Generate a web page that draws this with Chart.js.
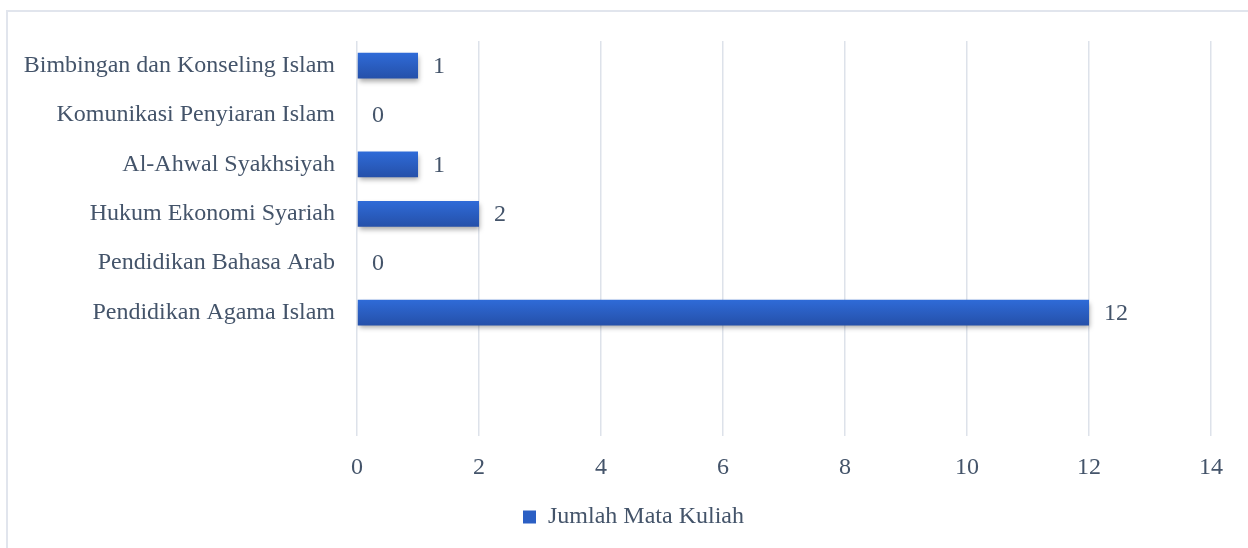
<!DOCTYPE html>
<html>
<head>
<meta charset="utf-8">
<script src="https://cdn.jsdelivr.net/npm/chart.js@4.4.1/dist/chart.umd.min.js"></script>
<style>
  html, body { margin: 0; padding: 0; background: #fff; overflow: hidden; }
  #wrap { position: relative; width: 1248px; height: 548px; }
  #frame { position: absolute; left: 6px; top: 10px; width: 1260px; height: 560px;
           border: 2px solid #e1e5ed; box-sizing: border-box; }
  canvas { position: absolute; left: 0; top: 0; }
</style>
</head>
<body>
<div id="wrap">
  <div id="frame"></div>
  <canvas id="prodi-chart" width="1248" height="548"></canvas>
</div>
<script>
// data
const prodi = ['Bimbingan dan Konseling Islam', 'Komunikasi Penyiaran Islam', 'Al-Ahwal Syakhsiyah',
  'Hukum Ekonomi Syariah', 'Pendidikan Bahasa Arab', 'Pendidikan Agama Islam', '', ''];
const jumlahMK = [1, 0, 1, 2, 0, 12, null, null];
const seriesName = 'Jumlah Mata Kuliah';
const xTicks = [0, 2, 4, 6, 8, 10, 12, 14];

const textColor = '#44546A';
const serif = "'Liberation Serif', 'Times New Roman', serif";

// gradient per bar, built from the y scale position
function barFill(c) {
  const chart = c.chart;
  const y = chart.scales && chart.scales.y;
  if (!y || c.dataIndex === undefined) return '#2B5FC4';
  const yc = y.getPixelForValue(c.dataIndex);
  if (!isFinite(yc)) return '#2B5FC4';
  const h = 13;
  const g = chart.ctx.createLinearGradient(0, yc - h, 0, yc + h);
  g.addColorStop(0, '#2F6BD8');
  g.addColorStop(1, '#2550A9');
  return g;
}

// shadow under bars + value labels
const barExtras = {
  id: 'barExtras',
  afterLayout(chart) {
    // legend is centred a bit right of the canvas centre in the original
    chart.legend.left += 28;
    chart.legend.right += 28;
  },
  beforeDatasetsDraw(chart) {
    const ctx = chart.ctx;
    ctx.save();
    ctx.shadowColor = 'rgba(0,0,0,0.35)';
    ctx.shadowBlur = 5;
    ctx.shadowOffsetX = 1;
    ctx.shadowOffsetY = 3;
  },
  afterDatasetsDraw(chart) {
    const ctx = chart.ctx;
    ctx.restore();
    const meta = chart.getDatasetMeta(0);
    ctx.save();
    ctx.font = '24px ' + serif;
    ctx.fillStyle = textColor;
    ctx.textAlign = 'left';
    ctx.textBaseline = 'middle';
    meta.data.forEach((bar, i) => {
      const v = jumlahMK[i];
      if (v === null) return;
      ctx.fillText(String(v), bar.x + 15, bar.y + 1);
    });
    ctx.restore();
  }
};

const ctx = document.getElementById('prodi-chart').getContext('2d');
const chart = new Chart(ctx, {
  type: 'bar',
  data: {
    labels: prodi,
    datasets: [{
      label: seriesName,
      data: jumlahMK,
      backgroundColor: barFill,
      borderWidth: 0,
      categoryPercentage: 0.58,
      barPercentage: 0.9,
    }],
  },
  options: {
    indexAxis: 'y',
    responsive: false,
    animation: false,
    layout: { padding: { top: 41, right: 37, bottom: 9, left: 0 } },
    scales: {
      x: {
        min: 0,
        max: 14,
        afterBuildTicks: (s) => { s.ticks = xTicks.map(v => ({ value: v })); },
        afterFit: (s) => { s.height = 59; },
        grid: { color: '#dde2ea', lineWidth: 1.5, drawTicks: false },
        border: { display: false },
        ticks: { color: textColor, font: { family: serif, size: 24 }, padding: 17 },
      },
      y: {
        afterFit: (s) => { s.width = 357; },
        grid: { display: false, drawTicks: false },
        border: { display: false },
        ticks: { color: textColor, font: { family: serif, size: 24 }, padding: 22 },
      },
    },
    plugins: {
      legend: {
        position: 'bottom',
        labels: {
          color: textColor,
          font: { family: serif, size: 24 },
          boxWidth: 13,
          boxHeight: 13,
          padding: 10,
          generateLabels: (c) => Chart.defaults.plugins.legend.labels.generateLabels(c)
            .map(l => Object.assign(l, { fillStyle: '#2B5FC4', strokeStyle: '#2B5FC4', lineWidth: 0 })),
        },
      },
      tooltip: { enabled: false },
    },
  },
  plugins: [barExtras],
});
</script>
</body>
</html>
